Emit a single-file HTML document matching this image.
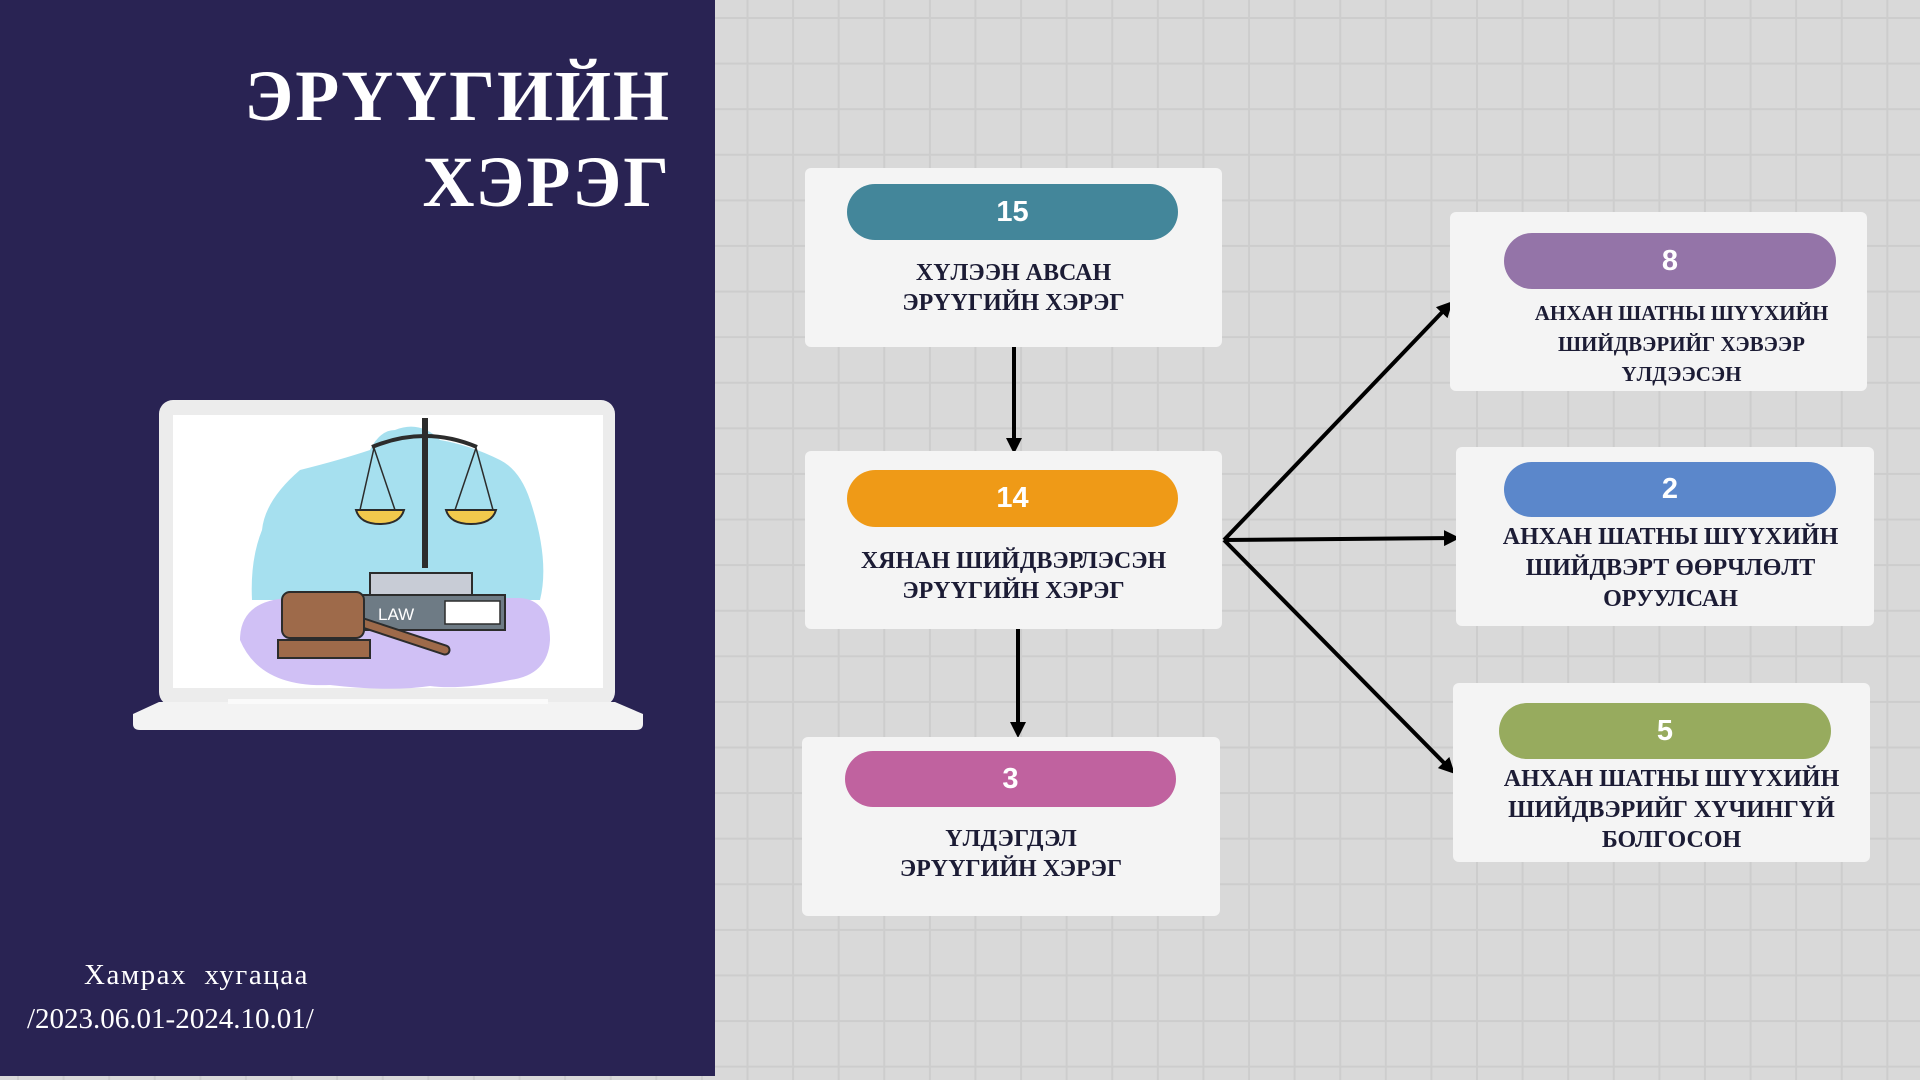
<!DOCTYPE html>
<html><head><meta charset="utf-8"><style>
html,body{margin:0;padding:0}
body{width:1920px;height:1080px;position:relative;overflow:hidden;background-color:#d9d9d9;
background-image:linear-gradient(to right,#cdcdcd 2px,transparent 2px),linear-gradient(to bottom,#cdcdcd 2px,transparent 2px);
background-size:45.6px 45.6px;background-position:17px 17px;font-family:"Liberation Serif",serif}
.left{position:absolute;left:0;top:0;width:715px;height:1076px;background:#292353}
.title{position:absolute;right:1249px;color:#fff;font-weight:bold;font-size:72px;letter-spacing:2px;line-height:1;text-align:right;white-space:nowrap}
.foot{position:absolute;color:#fff;font-size:29px;white-space:nowrap}
.box{position:absolute;background:#f4f4f4;border-radius:6px}
.pill{position:absolute;border-radius:30px;color:#fff;font-family:"Liberation Sans",sans-serif;font-weight:bold;font-size:29px;display:flex;align-items:center;justify-content:center}
.txt{position:absolute;left:0;right:0;text-align:center;color:#1c1c35;font-weight:bold;font-size:24px;line-height:30px}
</style></head><body>
<div class="left"></div>
<div class="title" style="top:60px">ЭРҮҮГИЙН</div>
<div class="title" style="top:146px">ХЭРЭГ</div>
<div class="foot" style="left:84px;top:959px;letter-spacing:1.5px">Хамрах&nbsp; хугацаа</div>
<div class="foot" style="left:27px;top:1003px;font-size:29px">/2023.06.01-2024.10.01/</div>

<svg style="position:absolute;left:0;top:0" width="1920" height="1080">
<defs><marker id="ah" markerWidth="16" markerHeight="16" refX="12" refY="8" orient="auto" markerUnits="userSpaceOnUse"><path d="M0,0 L16,8 L0,16 z" fill="#000"/></marker></defs>
<rect x="159" y="400" width="456" height="306" rx="14" fill="#ececec"/>
<rect x="173" y="415" width="430" height="273" fill="#fff"/>
<path d="M133,714 L159,702 L615,702 L643,714 L643,724 Q643,730 636,730 L140,730 Q133,730 133,724Z" fill="#f3f3f3"/>
<rect x="228" y="699" width="320" height="5" fill="#fafafa"/>
<path d="M395,430 Q420,420 440,440 Q470,445 500,460 Q520,470 530,500 Q550,560 540,600 L252,600 Q250,560 262,530 Q265,500 300,470 Q340,460 370,450 Q380,430 395,430Z" fill="#a6e0ef"/>
<path d="M240,640 Q240,600 290,598 L520,598 Q550,600 550,640 Q548,675 510,680 Q460,690 430,686 Q390,692 330,685 Q260,688 240,640Z" fill="#d0c0f5"/>
<rect x="422" y="418" width="6" height="150" fill="#2c2c2c"/>
<path d="M372,447 Q425,425 477,447" stroke="#2c2c2c" stroke-width="4" fill="none"/>
<path d="M374,448 L360,510 M374,448 L395,510 M476,448 L455,510 M476,448 L493,510" stroke="#2c2c2c" stroke-width="1.5"/>
<path d="M356,510 L404,510 Q400,524 380,524 Q360,524 356,510Z" fill="#f2c94c" stroke="#2c2c2c" stroke-width="2"/>
<path d="M446,510 L496,510 Q492,524 471,524 Q450,524 446,510Z" fill="#f2c94c" stroke="#2c2c2c" stroke-width="2"/>
<rect x="370" y="573" width="102" height="22" fill="#c8ccd6" stroke="#2c2c2c" stroke-width="2"/>
<rect x="363" y="595" width="142" height="35" fill="#6e7b85" stroke="#2c2c2c" stroke-width="2"/>
<rect x="445" y="601" width="55" height="23" fill="#fff" stroke="#2c2c2c" stroke-width="1.5"/>
<text x="378" y="620" font-family="Liberation Sans,sans-serif" font-size="17" fill="#fff">LAW</text>
<line x1="360" y1="622" x2="445" y2="650" stroke="#2c2c2c" stroke-width="11" stroke-linecap="round"/>
<line x1="360" y1="622" x2="445" y2="650" stroke="#9e6a4a" stroke-width="7" stroke-linecap="round"/>
<rect x="282" y="592" width="82" height="46" rx="8" fill="#9e6a4a" stroke="#2c2c2c" stroke-width="2"/>
<rect x="278" y="640" width="92" height="18" fill="#9e6a4a" stroke="#2c2c2c" stroke-width="2"/>
<g stroke="#000" stroke-width="4" fill="none">
<line x1="1014" y1="347" x2="1014" y2="450" marker-end="url(#ah)"/>
<line x1="1018" y1="629" x2="1018" y2="734" marker-end="url(#ah)"/>
<line x1="1224" y1="540" x2="1450" y2="304" marker-end="url(#ah)"/>
<line x1="1224" y1="540" x2="1456" y2="538" marker-end="url(#ah)"/>
<line x1="1224" y1="540" x2="1452" y2="771" marker-end="url(#ah)"/>
</g>
</svg>

<div class="box" style="left:805px;top:168px;width:417px;height:179px">
<div class="pill" style="left:42px;top:16px;width:331px;height:56px;background:#43869a">15</div>
<div class="txt" style="top:90px">ХҮЛЭЭН АВСАН<br>ЭРҮҮГИЙН ХЭРЭГ</div></div>
<div class="box" style="left:805px;top:451px;width:417px;height:178px">
<div class="pill" style="left:42px;top:19px;width:331px;height:57px;background:#ef9a17">14</div>
<div class="txt" style="top:95px">ХЯНАН ШИЙДВЭРЛЭСЭН<br>ЭРҮҮГИЙН ХЭРЭГ</div></div>
<div class="box" style="left:802px;top:737px;width:418px;height:179px">
<div class="pill" style="left:43px;top:14px;width:331px;height:56px;background:#c0629f">3</div>
<div class="txt" style="top:87px">ҮЛДЭГДЭЛ<br>ЭРҮҮГИЙН ХЭРЭГ</div></div>
<div class="box" style="left:1450px;top:212px;width:417px;height:179px">
<div class="pill" style="left:54px;top:21px;width:332px;height:56px;background:#9474a8">8</div>
<div class="txt" style="top:86px;left:46px;font-size:21px;line-height:30.5px">АНХАН ШАТНЫ ШҮҮХИЙН<br>ШИЙДВЭРИЙГ ХЭВЭЭР<br>ҮЛДЭЭСЭН</div></div>
<div class="box" style="left:1456px;top:447px;width:418px;height:179px">
<div class="pill" style="left:48px;top:15px;width:332px;height:55px;background:#5b87cb">2</div>
<div class="txt" style="top:75px;left:11px;line-height:31px">АНХАН ШАТНЫ ШҮҮХИЙН<br>ШИЙДВЭРТ ӨӨРЧЛӨЛТ<br>ОРУУЛСАН</div></div>
<div class="box" style="left:1453px;top:683px;width:417px;height:179px">
<div class="pill" style="left:46px;top:20px;width:332px;height:56px;background:#97ab5e">5</div>
<div class="txt" style="top:81px;left:20px;line-height:30.5px">АНХАН ШАТНЫ ШҮҮХИЙН<br>ШИЙДВЭРИЙГ ХҮЧИНГҮЙ<br>БОЛГОСОН</div></div>
</body></html>
